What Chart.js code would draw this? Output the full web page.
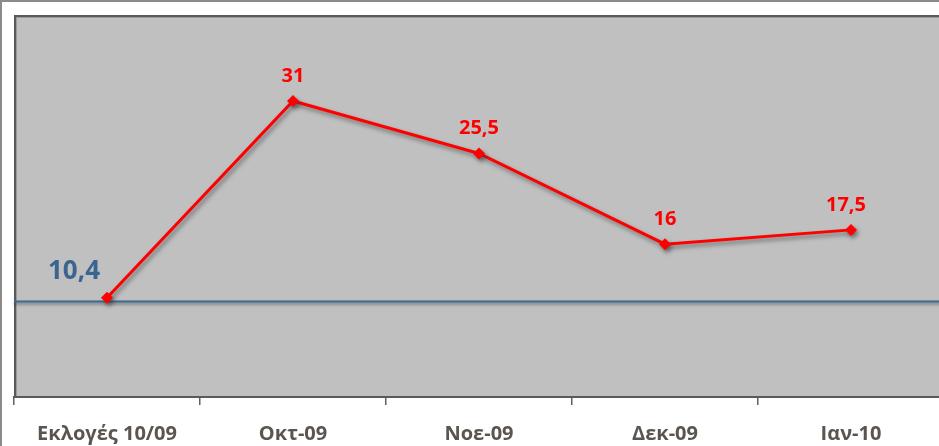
<!DOCTYPE html>
<html>
<head>
<meta charset="utf-8">
<script src="https://cdn.jsdelivr.net/npm/chart.js@4/dist/chart.umd.min.js"></script>
<style>
  html, body { margin: 0; padding: 0; background: #fff; overflow: hidden; }
  #wrap { position: relative; width: 939px; height: 446px; overflow: hidden; }
  #frame { position: absolute; left: 0; top: 0; width: 960px; height: 460px; border-top: 2px solid #8a8a8a; border-left: 2px solid #8a8a8a; box-sizing: border-box; pointer-events: none; }
  canvas { position: absolute; left: 0; top: 0; }
</style>
</head>
<body>
<div id="wrap">
  <canvas id="chart" width="950" height="446"></canvas>
  <div id="frame"></div>
</div>
<script>
const categories = ["Εκλογές 10/09", "Οκτ-09", "Νοε-09", "Δεκ-09", "Ιαν-10"];
const values = [10.4, 31, 25.5, 16, 17.5];
const pointLabels = ["10,4", "31", "25,5", "16", "17,5"];
const referenceValue = 10;

const plotBackground = {
  id: "plotBackground",
  beforeDraw(chart) {
    const { ctx, chartArea: a } = chart;
    ctx.save();
    ctx.fillStyle = "#c0c0c0";
    ctx.fillRect(a.left, a.top, a.right - a.left, a.bottom - a.top);
    ctx.fillStyle = "#9a9a9a";
    ctx.fillRect(a.left, a.top, a.right - a.left, 3);
    ctx.fillRect(a.left, a.top, 3, a.bottom - a.top);
    ctx.fillStyle = "#5a5a5a";
    ctx.fillRect(a.left, a.top, a.right - a.left, 2);
    ctx.fillRect(a.left, a.top, 2, a.bottom - a.top);
    ctx.restore();
  }
};

const referenceLine = {
  id: "referenceLine",
  beforeDatasetsDraw(chart) {
    const { ctx, chartArea: a } = chart;
    const y = chart.scales.y.getPixelForValue(referenceValue);
    ctx.save();
    ctx.shadowColor = "rgba(60,60,60,0.6)";
    ctx.shadowBlur = 3;
    ctx.shadowOffsetY = 2;
    ctx.strokeStyle = "#3b6a96";
    ctx.lineWidth = 1.8;
    ctx.beginPath();
    ctx.moveTo(a.left, y);
    ctx.lineTo(a.right, y);
    ctx.stroke();
    ctx.restore();
  }
};

const lineShadow = {
  id: "lineShadow",
  beforeDatasetDraw(chart) {
    const ctx = chart.ctx;
    ctx.save();
    ctx.shadowColor = "rgba(50,50,50,0.55)";
    ctx.shadowBlur = 4;
    ctx.shadowOffsetX = 2;
    ctx.shadowOffsetY = 3;
  },
  afterDatasetDraw(chart) {
    chart.ctx.restore();
  }
};

const valueLabels = {
  id: "valueLabels",
  afterDatasetsDraw(chart) {
    const { ctx } = chart;
    const pts = chart.getDatasetMeta(0).data;
    ctx.save();
    ctx.textAlign = "center";
    ctx.textBaseline = "middle";
    pts.forEach((p, i) => {
      if (i === 0) {
        ctx.fillStyle = "#3b6591";
        ctx.font = "bold 26px 'Open Sans'";
        ctx.fillText(pointLabels[i], p.x - 33, p.y - 26);
      } else {
        ctx.fillStyle = "#ff0000";
        ctx.font = "bold 20px 'Open Sans'";
        ctx.fillText(pointLabels[i], p.x - (i === 4 ? 5 : 0), p.y - 25);
      }
    });
    ctx.restore();
  }
};

new Chart(document.getElementById("chart"), {
  type: "line",
  data: {
    labels: categories,
    datasets: [
      {
        data: values,
        borderColor: "#ff0000",
        borderWidth: 3,
        backgroundColor: "#ff0000",
        pointStyle: "rectRot",
        pointRadius: 6,
        pointBorderWidth: 0,
        tension: 0
      }
    ]
  },
  options: {
    responsive: false,
    animation: false,
    layout: { padding: { left: 14, top: 15, right: 5, bottom: 0 } },
    plugins: { legend: { display: false }, tooltip: { enabled: false } },
    scales: {
      y: { display: false, min: 0, max: 40 },
      x: {
        offset: true,
        afterFit: (s) => { s.height = 49; },
        grid: { offset: true, drawOnChartArea: false, drawTicks: true, tickLength: 8, color: "#606060", lineWidth: 1.5 },
        border: { display: true, color: "#5a5a5a", width: 2 },
        ticks: { color: "#5b5550", padding: 17, font: { family: "'Open Sans'", size: 20, weight: "bold" } }
      }
    }
  },
  plugins: [plotBackground, referenceLine, lineShadow, valueLabels]
});
</script>
</body>
</html>
